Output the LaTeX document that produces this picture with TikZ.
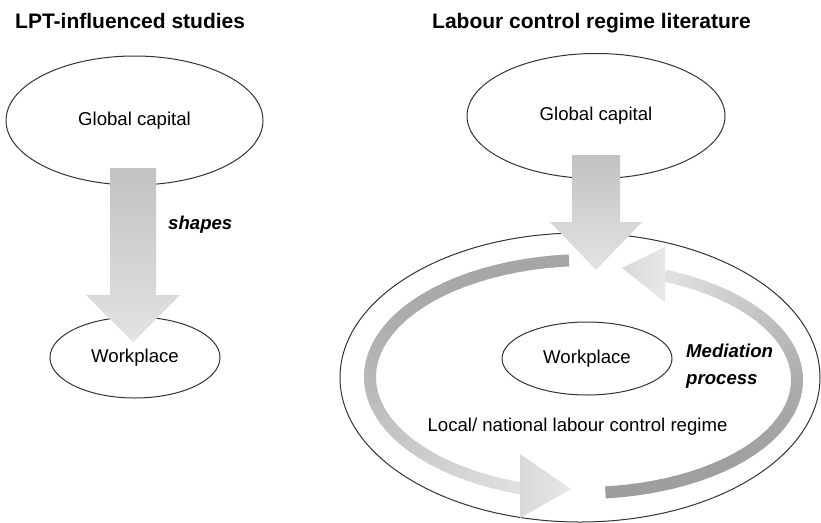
\documentclass[tikz,border=0pt]{standalone}
\usepackage{fontspec}
\setmainfont{Liberation Sans}
\usetikzlibrary{shapes.geometric,calc}
\tikzset{
  ell/.style={ellipse, draw=black!80, line width=1pt, inner sep=0pt, font=\fontsize{18.6}{22}\selectfont},
  plain/.style={inner sep=0pt, font=\fontsize{18.6}{22}\selectfont},
  heading/.style={inner sep=0pt, anchor=base west, font=\fontsize{21}{25}\selectfont\bfseries},
  emph/.style={inner sep=0pt, anchor=west, align=left, font=\fontsize{18.6}{27}\selectfont\bfseries\itshape},
  fatshade/.style={top color=black!24, bottom color=black!11, draw=none},
  headfill/.style={left color=black!15, right color=black!9, draw=none}
}
\begin{document}
\begin{tikzpicture}[x=1pt,y=-1pt]
\useasboundingbox (0,0) rectangle (821,522);

% titles
\node[heading] (t1) at (15,28) {LPT-influenced studies};
\node[heading] (t2) at (432,28) {Labour control regime literature};

% left side
\node[ell, minimum width=257, minimum height=129] (gc1) at (134.5,120.5) {Global capital};
\node[ell, minimum width=170, minimum height=81] (wp1) at (135,357.5) {Workplace};
\node[emph] (shapes) at (168,225) {shapes};

% right side
\node[ell, minimum width=258, minimum height=125] (gc2) at (596,116) {Global capital};
\node[ell, minimum width=480, minimum height=289] (regime) at (580,377.5) {};
\node[ell, minimum width=170, minimum height=73] (wp2) at (587,358.5) {Workplace};
\node[emph] (med) at (686,366) {Mediation\\process};
\node[plain] (local) at (577.5,427) {Local/ national labour control regime};

% circular band, left half (top -> bottom)
\foreach \i in {0,...,39}{
  \pgfmathsetmacro\ta{95+\i*157/40}
  \pgfmathsetmacro\tb{\ta+157/40+0.6}
  \pgfmathsetmacro\pc{35-23*(\i/39)^2}
  \draw[line width=12pt, black!\pc] plot[domain=\ta:\tb, samples=4, variable=\t] ({588+218*cos(\t)},{377-117*sin(\t)});
}
\coordinate (lhb1) at (520,454);
\coordinate (lhb2) at (520,518);
\coordinate (lht) at (571,489);
\shade[headfill] (lhb1) -- (lht) -- (lhb2) -- cycle;

% circular band, right half (bottom -> top)
\foreach \i in {0,...,39}{
  \pgfmathsetmacro\ta{-84+\i*151/40}
  \pgfmathsetmacro\tb{\ta+151/40+0.6}
  \pgfmathsetmacro\pc{38-26*(\i/39)^2.5}
  \draw[line width=12pt, black!\pc] plot[domain=\ta:\tb, samples=4, variable=\t] ({583+214*cos(\t)},{380-113*sin(\t)});
}
\coordinate (rhb1) at (665,247);
\coordinate (rhb2) at (665,302);
\coordinate (rht) at (622,268);
\shade[headfill] (rhb1) -- (rht) -- (rhb2) -- cycle;

% fat arrows
\coordinate (a1top) at (133,168);
\coordinate (a1tip) at (133,342);
\shade[fatshade] let \p1=(a1top), \p2=(a1tip) in
  (\x1-23pt,\y1) -- (\x1+23pt,\y1) -- (\x1+23pt,\y2+47pt) -- (\x1+47pt,\y2+47pt)
  -- (\x2,\y2) -- (\x1-47pt,\y2+47pt) -- (\x1-23pt,\y2+47pt) -- cycle;

\coordinate (a2top) at (596,155);
\coordinate (a2tip) at (596,270);
\shade[fatshade] let \p1=(a2top), \p2=(a2tip) in
  (\x1-24pt,\y1) -- (\x1+24pt,\y1) -- (\x1+24pt,\y2+48pt) -- (\x1+46pt,\y2+48pt)
  -- (\x2,\y2) -- (\x1-46pt,\y2+48pt) -- (\x1-24pt,\y2+48pt) -- cycle;
\end{tikzpicture}
\end{document}
